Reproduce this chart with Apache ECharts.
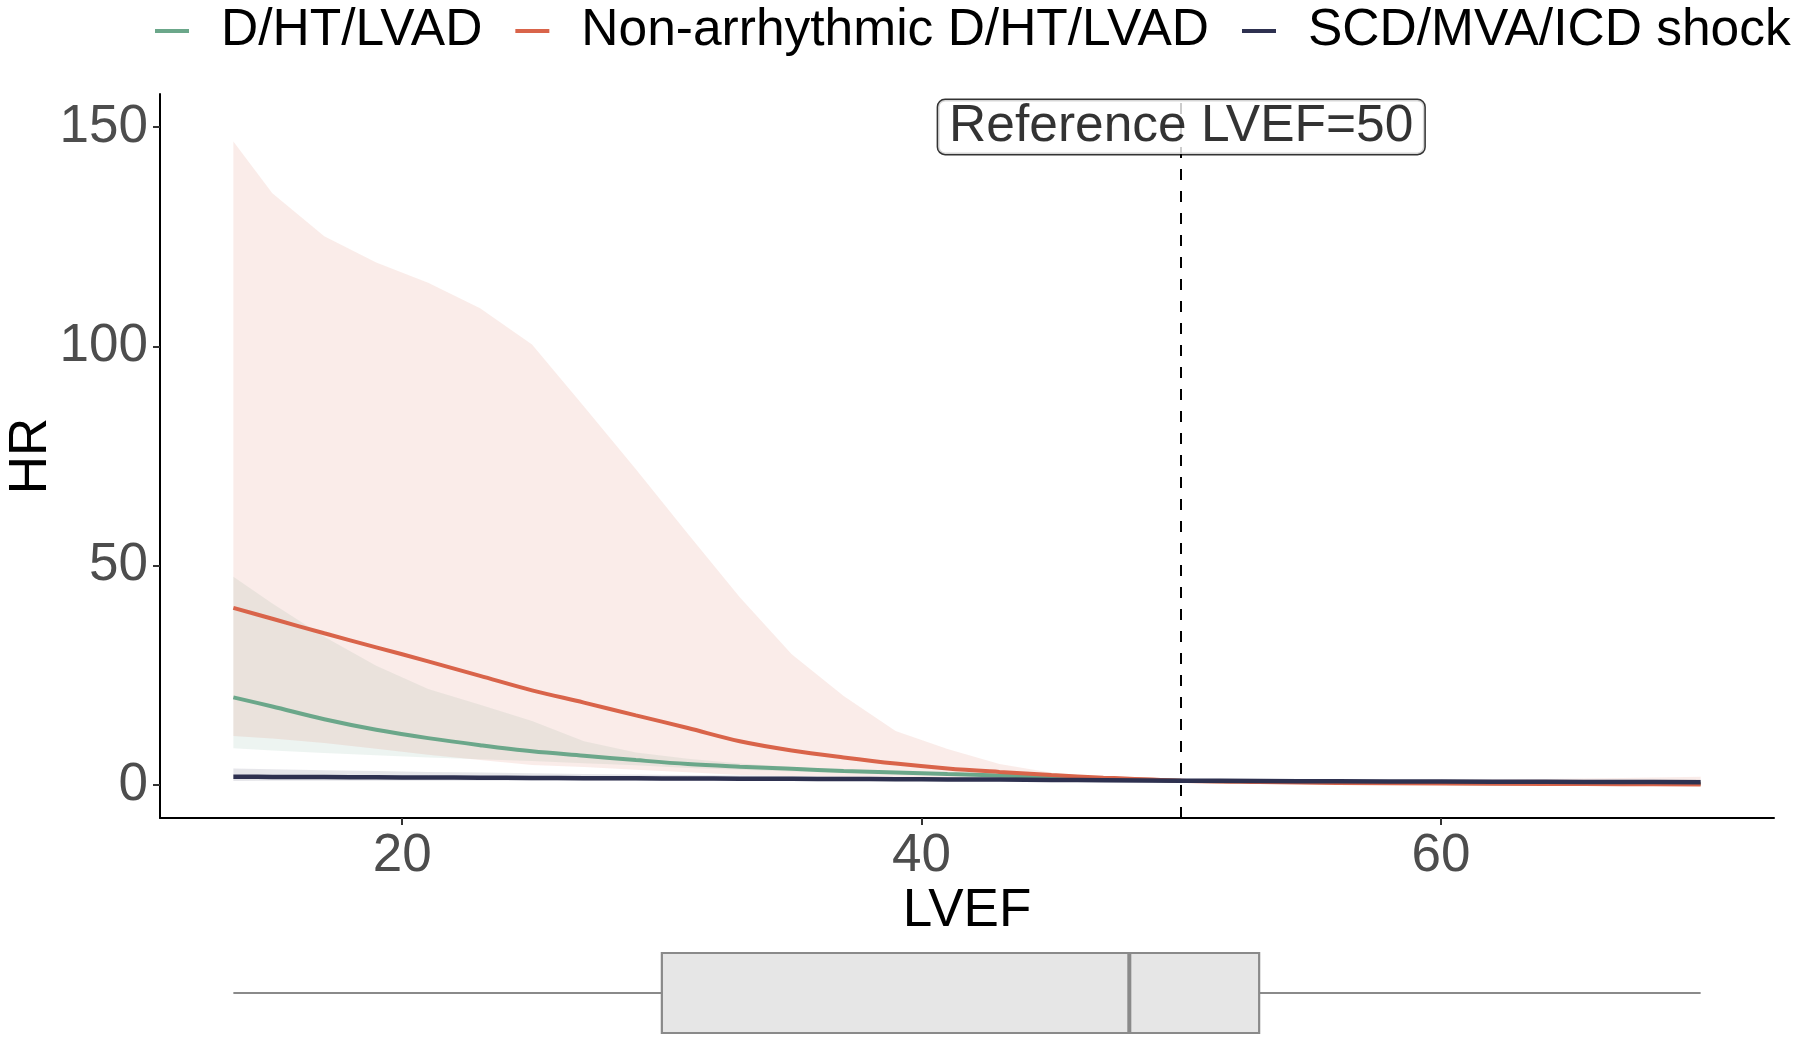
<!DOCTYPE html>
<html>
<head>
<meta charset="utf-8">
<script src="https://cdn.jsdelivr.net/npm/echarts@6/dist/echarts.min.js"></script>
<style>
html,body{margin:0;padding:0;background:#fff;}
#chart{width:1800px;height:1041px;}
</style>
</head>
<body>
<div id="chart"></div>
<script>
// ---- data ----
const lvef = [13.5, 15, 17, 19, 21, 23, 25, 27, 29, 31, 33, 35, 37, 39, 41, 43, 45, 47, 50, 53, 56, 60, 64, 67, 70];

const dhtHR    = [20.0, 17.9, 15.0, 12.6, 10.7, 9.1, 7.7, 6.7, 5.7, 4.8, 4.2, 3.7, 3.2, 2.85, 2.5, 2.2, 1.8, 1.5, 1.0, 0.8, 0.65, 0.5, 0.4, 0.35, 0.3];
const dhtUpper = [47.5, 41.4, 33.8, 27.2, 21.9, 18.3, 14.6, 10.0, 7.4, 6.0, 4.9, 4.1, 3.5, 3.05, 2.7, 2.35, 1.95, 1.6, 1.0, 0.85, 0.75, 0.65, 0.6, 0.58, 0.55];
const dhtLower = [8.4, 7.9, 7.3, 6.8, 6.3, 5.9, 5.5, 5.0, 4.5, 3.9, 3.5, 3.1, 2.8, 2.55, 2.3, 2.0, 1.65, 1.4, 1.0, 0.75, 0.55, 0.4, 0.3, 0.25, 0.2];

const nonHR    = [40.4, 37.9, 34.6, 31.4, 28.2, 24.9, 21.6, 18.8, 15.9, 13.0, 10.0, 7.9, 6.3, 4.9, 3.8, 3.0, 2.3, 1.7, 1.0, 0.7, 0.5, 0.35, 0.25, 0.2, 0.15];
const nonUpper = [146.7, 134.9, 125.1, 119.1, 114.5, 108.7, 100.4, 86.3, 72.0, 57.3, 42.8, 29.8, 20.3, 12.3, 8.2, 4.8, 2.8, 1.8, 1.0, 1.05, 1.1, 1.2, 1.4, 1.6, 1.9];
const nonLower = [11.2, 10.6, 9.6, 8.3, 6.9, 5.7, 4.6, 4.1, 3.5, 2.9, 2.3, 2.1, 1.95, 1.95, 1.75, 1.85, 1.9, 1.6, 1.0, 0.47, 0.23, 0.1, 0.05, 0.03, 0.02];

const scdHR    = [1.9, 1.87, 1.83, 1.78, 1.73, 1.68, 1.63, 1.58, 1.54, 1.5, 1.46, 1.42, 1.38, 1.34, 1.3, 1.25, 1.18, 1.1, 1.0, 0.93, 0.87, 0.8, 0.74, 0.7, 0.66];
const scdUpper = [3.8, 3.6, 3.4, 3.2, 3.0, 2.85, 2.7, 2.55, 2.4, 2.3, 2.2, 2.1, 2.0, 1.9, 1.8, 1.65, 1.5, 1.3, 1.0, 1.05, 1.1, 1.15, 1.2, 1.25, 1.3];
const scdLower = [0.95, 0.97, 0.98, 0.99, 1.0, 0.99, 0.98, 0.98, 0.99, 0.98, 0.97, 0.96, 0.95, 0.95, 0.94, 0.95, 0.93, 0.93, 1.0, 0.82, 0.69, 0.56, 0.46, 0.39, 0.34];

// LVEF distribution: [min, Q1, median, Q3, max]
const lvefBox = [13.5, 30, 48, 53, 70];

const seriesNames = ['D/HT/LVAD', 'Non-arrhythmic D/HT/LVAD', 'SCD/MVA/ICD shock'];
const colors = ['#6BA78A', '#D9644A', '#2E3150'];
const yTicks = [0, 50, 100, 150];
const xTicks = [20, 40, 60];
const refLVEF = 50;
const refLabelY = 150;
const refLabel = 'Reference LVEF=50';

// ---- build options ----
const FONT = 'Liberation Sans, Arial, Helvetica, sans-serif';
function pairs(xs, ys) { return xs.map((x, i) => [x, ys[i]]); }

function ribbon(upper, lower, color, opacity) {
  return {
    type: 'custom',
    xAxisIndex: 0, yAxisIndex: 0,
    silent: true,
    z: 1,
    data: [0],
    renderItem: function (params, api) {
      const pts = [];
      for (let i = 0; i < lvef.length; i++) pts.push(api.coord([lvef[i], upper[i]]));
      for (let i = lvef.length - 1; i >= 0; i--) pts.push(api.coord([lvef[i], lower[i]]));
      return {
        type: 'polygon',
        shape: { points: pts },
        style: { fill: color, opacity: opacity, stroke: null }
      };
    }
  };
}

function curve(name, ys, color, width, z) {
  return {
    type: 'line',
    name: name,
    xAxisIndex: 0, yAxisIndex: 0,
    data: pairs(lvef, ys),
    showSymbol: false,
    symbol: 'none',
    smooth: 0.35,
    lineStyle: { color: color, width: width },
    itemStyle: { color: color },
    z: z
  };
}

const greenLine = curve(seriesNames[0], dhtHR, colors[0], 4, 3);
greenLine.markLine = {
  silent: true,
  symbol: ['none', 'none'],
  label: { show: false },
  lineStyle: { color: '#000', width: 2, type: [11, 11] },
  data: [{ xAxis: refLVEF }],
  animation: false
};

const option = {
  animation: false,
  backgroundColor: '#fff',
  textStyle: { fontFamily: FONT },
  legend: {
    data: seriesNames,
    left: 150,
    top: 0,
    width: 1700,
    icon: 'rect',
    itemWidth: 34,
    itemHeight: 4,
    itemGap: 33,
    textStyle: { fontSize: 51.5, color: '#000', fontFamily: FONT, padding: [0, 0, 0, 27], lineHeight: 52 }
  },
  grid: [
    { left: 160, top: 94, width: 1614, height: 724, containLabel: false, outerBoundsMode: 'none' },
    { left: 160, top: 950, width: 1614, height: 86, containLabel: false, outerBoundsMode: 'none' }
  ],
  xAxis: [
    {
      type: 'value', gridIndex: 0, min: 10.675, max: 72.825,
      name: 'LVEF', nameLocation: 'middle', nameGap: 67, nameMoveOverlap: false,
      nameTextStyle: { fontSize: 53, color: '#000', fontFamily: FONT },
      axisLine: { show: true, onZero: false, lineStyle: { color: '#000', width: 2 } },
      axisTick: { show: true, length: 7, lineStyle: { color: '#333', width: 2 }, customValues: xTicks },
      axisLabel: { fontSize: 53, color: '#4D4D4D', margin: 12, fontFamily: FONT, customValues: xTicks },
      splitLine: { show: false }
    },
    {
      type: 'value', gridIndex: 1, min: 10.675, max: 72.825,
      show: false
    }
  ],
  yAxis: [
    {
      type: 'value', gridIndex: 0, min: -7.5, max: 157.5,
      name: 'HR', nameLocation: 'middle', nameGap: 102, nameMoveOverlap: false,
      nameTextStyle: { fontSize: 53, color: '#000', fontFamily: FONT },
      axisLine: { show: true, onZero: false, lineStyle: { color: '#000', width: 2 } },
      axisTick: { show: true, length: 7, lineStyle: { color: '#333', width: 2 }, customValues: yTicks },
      axisLabel: { fontSize: 53, color: '#4D4D4D', margin: 12, fontFamily: FONT, customValues: yTicks },
      splitLine: { show: false }
    },
    {
      type: 'category', gridIndex: 1, data: ['LVEF'], show: false
    }
  ],
  series: [
    ribbon(dhtUpper, dhtLower, colors[0], 0.12),
    ribbon(nonUpper, nonLower, colors[1], 0.12),
    ribbon(scdUpper, scdLower, colors[2], 0.12),
    greenLine,
    curve(seriesNames[1], nonHR, colors[1], 4, 4),
    curve(seriesNames[2], scdHR, colors[2], 4.5, 5),
    {
      type: 'scatter',
      xAxisIndex: 0, yAxisIndex: 0,
      data: [[refLVEF, refLabelY]],
      symbolSize: 0,
      silent: true,
      z: 20,
      label: {
        show: true,
        position: 'inside',
        formatter: refLabel,
        fontSize: 51.5,
        color: '#000',
        fontFamily: FONT,
        backgroundColor: '#fff',
        borderColor: '#000',
        borderWidth: 1.5,
        borderRadius: 7,
        padding: [1, 11, 1, 11],
        lineHeight: 52
      }
    },
    {
      type: 'custom',
      xAxisIndex: 1, yAxisIndex: 1,
      silent: true,
      data: [0],
      renderItem: function (params, api) {
        const c = api.coord([lvefBox[2], 0]);
        const cy = c[1];
        const band = api.size([0, 1])[1];
        const h = band * 0.93;
        const pMin = api.coord([lvefBox[0], 0])[0];
        const pQ1 = api.coord([lvefBox[1], 0])[0];
        const pMed = api.coord([lvefBox[2], 0])[0];
        const pQ3 = api.coord([lvefBox[3], 0])[0];
        const pMax = api.coord([lvefBox[4], 0])[0];
        const stroke = '#8A8A8A';
        return {
          type: 'group',
          children: [
            { type: 'line', shape: { x1: pMin, y1: cy, x2: pQ1, y2: cy }, style: { stroke: stroke, lineWidth: 2.2 } },
            { type: 'line', shape: { x1: pQ3, y1: cy, x2: pMax, y2: cy }, style: { stroke: stroke, lineWidth: 2.2 } },
            { type: 'rect', shape: { x: pQ1, y: cy - h / 2, width: pQ3 - pQ1, height: h }, style: { fill: '#E6E6E6', stroke: stroke, lineWidth: 2.2 } },
            { type: 'line', shape: { x1: pMed, y1: cy - h / 2, x2: pMed, y2: cy + h / 2 }, style: { stroke: stroke, lineWidth: 4 } }
          ]
        };
      }
    }
  ]
};

const chart = echarts.init(document.getElementById('chart'), null, { renderer: 'canvas' });
chart.setOption(option);
</script>
</body>
</html>
